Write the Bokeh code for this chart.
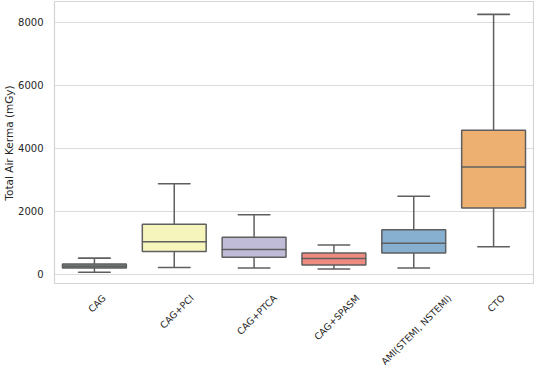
import math
from bokeh.plotting import figure
from bokeh.models import ColumnDataSource, FixedTicker, Range1d
from bokeh.layouts import column
from bokeh.core.properties import value
from bokeh.embed import file_html
from bokeh.resources import INLINE

categories = ["CAG", "CAG+PCI", "CAG+PTCA", "CAG+SPASM", "AMI(STEMI, NSTEMI)", "CTO"]
whisker_low = [60, 215, 193, 163, 193, 869]
q1 = [193, 724, 540, 295, 675, 2106]
median = [255, 1031, 786, 500, 982, 3407]
q3 = [325, 1584, 1175, 675, 1412, 4573]
whisker_high = [510, 2873, 1890, 930, 2474, 8256]
colors = ["#7a8b87", "#f6f5bc", "#c0bcd8", "#ee8a80", "#86afd0", "#eeb071"]
y_ticks = [0, 2000, 4000, 6000, 8000]

src = ColumnDataSource(dict(cat=categories, lo=whisker_low, q1=q1, med=median,
                            q3=q3, hi=whisker_high, color=colors))

W = 534
LEFT = 44
RIGHT = 1
H1 = 284
H2 = 81

p = figure(x_range=categories, y_range=(-328, 8665), width=W, height=H1,
           output_backend="svg", toolbar_location=None, x_axis_location=None,
           min_border_left=LEFT, min_border_right=RIGHT, min_border_top=1, min_border_bottom=0)

line_c = "#5f5f5f"
p.segment(x0="cat", y0="lo", x1="cat", y1="q1", source=src, line_color=line_c, line_width=1.5)
p.segment(x0="cat", y0="q3", x1="cat", y1="hi", source=src, line_color=line_c, line_width=1.5)
p.rect(x="cat", y="lo", width=0.4, height=0.01, height_units="screen", source=src,
       line_color=line_c, line_width=1.5, fill_alpha=0)
p.rect(x="cat", y="hi", width=0.4, height=0.01, height_units="screen", source=src,
       line_color=line_c, line_width=1.5, fill_alpha=0)
p.vbar(x="cat", bottom="q1", top="q3", width=0.8, source=src, fill_color="color",
       line_color=line_c, line_width=1.5)
p.rect(x="cat", y="med", width=0.8, height=0.01, height_units="screen", source=src,
       line_color=line_c, line_width=1.5, fill_alpha=0)

p.outline_line_color = "#d4d4d4"
p.outline_line_width = 1.2
p.xgrid.grid_line_color = None
p.ygrid.grid_line_color = "#dcdcdc"
p.ygrid.grid_line_width = 1.2

p.yaxis.ticker = FixedTicker(ticks=y_ticks)
ax = p.yaxis[0]
ax.axis_line_color = None
ax.major_tick_line_color = None
ax.minor_tick_line_color = None
ax.major_label_text_font = "DejaVu Sans"
ax.major_label_text_font_size = "10px"
ax.major_label_text_color = "#262626"
ax.major_label_standoff = 5
ax.axis_label = "Total Air Kerma (mGy)"
ax.axis_label_text_font = "DejaVu Sans"
ax.axis_label_text_font_style = "normal"
ax.axis_label_text_font_size = "10.5px"
ax.axis_label_text_color = "#262626"
ax.axis_label_standoff = 0

# rotated category labels, centred under each box (matplotlib style), in a strip below
fs = 9.4
adv = {"A": 1401, "C": 1430, "E": 1294, "G": 1577, "I": 604, "M": 1767, "N": 1532,
       "O": 1612, "P": 1235, "S": 1300, "T": 1251, "+": 1716, "(": 799, ")": 799,
       ",": 651, " ": 651}
h = 0.73 * fs
gap = 7
s45 = math.sqrt(0.5)
xoff = [(sum(adv.get(c, 1300) for c in name) / 2048 * fs + h) * s45 / 2 for name in categories]
lab_src = ColumnDataSource(dict(cat=categories, xoff=xoff,
                                y=[gap + h * s45] * len(categories)))

p2 = figure(x_range=p.x_range, y_range=Range1d(H2, 0), width=W, height=H2,
            output_backend="svg", toolbar_location=None,
            x_axis_location=None, y_axis_location=None,
            min_border_left=LEFT, min_border_right=RIGHT, min_border_top=0, min_border_bottom=0)
p2.grid.visible = False
p2.outline_line_color = None
p2.text(x="cat", y="y", text="cat", x_offset="xoff", source=lab_src, angle=math.pi / 4,
        text_align="right", text_baseline="alphabetic", text_font=value("DejaVu Sans"),
        text_font_size=f"{fs}px", text_color="#262626")

layout = column(p, p2, spacing=0)
open("out.html", "w").write(file_html(layout, INLINE))
